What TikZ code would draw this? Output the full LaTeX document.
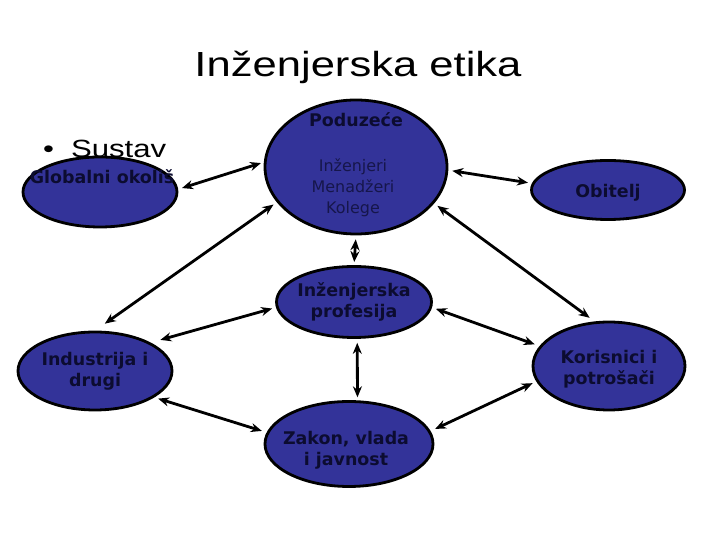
\documentclass[tikz,border=0pt]{standalone}
\usepackage{fontspec}
\setmainfont{DejaVu Sans}
\newfontfamily\titlefont[FakeStretch=1.25]{Liberation Sans}
\usetikzlibrary{arrows.meta,shapes.geometric}
\definecolor{blobblue}{RGB}{51,51,153}
\definecolor{blobtext}{RGB}{12,12,48}
\definecolor{thintext}{RGB}{22,22,75}

\begin{document}
\begin{tikzpicture}[
	x=1bp, y=1bp,
	blob/.style={ ellipse, draw=black, line width=2.8bp, fill=blobblue, inner sep=0pt },
	lbl/.style={ align=center, text=blobtext, font=\fontsize{17.5}{21}\selectfont\bfseries, inner sep=0pt },
	thin/.style={ align=center, text=thintext, font=\fontsize{16}{21}\selectfont, inner sep=0pt },
	link/.style={ {Stealth[length=11bp,width=9bp]}-{Stealth[length=11bp,width=9bp]}, line width=2.8bp, shorten <=4bp }
]
\useasboundingbox (0,0) rectangle (720,540);

\node at (358,463) (title) [anchor=base, inner sep=0pt, font=\titlefont\fontsize{35}{40}\selectfont] {Inženjerska etika};
\node at (43,382) (sustav) [anchor=base west, inner sep=0pt, font=\titlefont\fontsize{25}{30}\selectfont] {•\hspace{17bp}Sustav};

\node at (100,348) (glob) [blob, minimum width=154bp, minimum height=70bp, label={[lbl,xshift=2bp,yshift=15bp]center:{Globalni okoliš}}] {};
\node at (356,373) (pod) [blob, minimum width=182bp, minimum height=134bp,
	label={[lbl,yshift=47bp]center:{Poduzeće}},
	label={[thin,xshift=-3bp,yshift=-21bp]center:{Inženjeri\\Menadžeri\\Kolege}}] {};
\node at (608,350) (obit) [blob, minimum width=153bp, minimum height=59bp, label={[lbl,yshift=-3bp]center:{Obitelj}}] {};
\node at (354,238) (prof) [blob, minimum width=155bp, minimum height=71bp, label={[lbl]center:{Inženjerska\\profesija}}] {};
\node at (95,169) (ind) [blob, minimum width=154bp, minimum height=78bp, label={[lbl]center:{Industrija i\\drugi}}] {};
\node at (609,174) (kor) [blob, minimum width=152bp, minimum height=88bp, label={[lbl,yshift=-3bp]center:{Korisnici i\\potrošači}}] {};
\node at (349,96) (zak) [blob, minimum width=168bp, minimum height=85bp, label={[lbl,xshift=-3bp,yshift=-6bp]center:{Zakon, vlada\\i javnost}}] {};

\foreach \a/\b/\s in {glob.2/pod.177/3bp, pod.358/obit.175/4bp, pod.204/ind.north/12bp,
	pod.335/kor.108/6bp, pod.south/prof.north/3bp, prof.184/ind.27/10bp,
	prof.356/kor.164/5bp, prof.275/zak.79/3bp, ind.336/zak.172/5bp, kor.192/zak.9/5bp}
	\draw[link, shorten >=\s] (\a) -- (\b);

\end{tikzpicture}
\end{document}
